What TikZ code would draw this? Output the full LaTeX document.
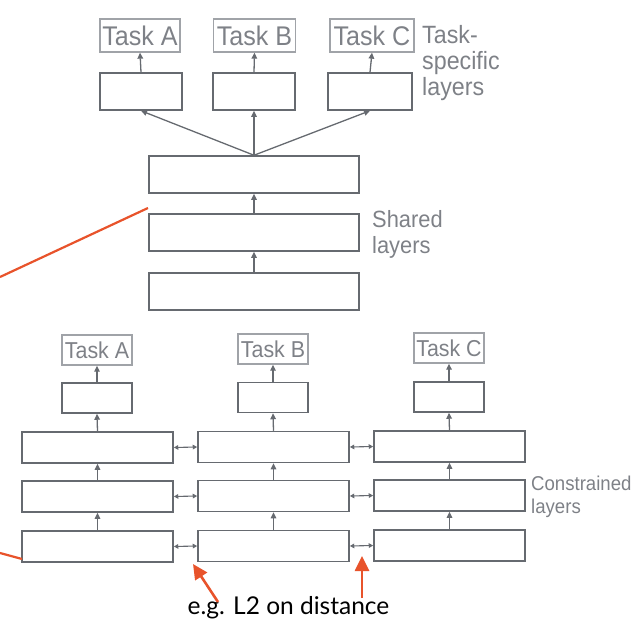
\documentclass[tikz,border=0pt]{standalone}
\usepackage{fontspec}
\setmainfont{Liberation Sans}
\newfontfamily\lightsans[FakeStretch=0.93]{Liberation Sans}
\newfontfamily\notefont{Lato}
\usetikzlibrary{arrows.meta}
\definecolor{boxgray}{HTML}{666A70}
\definecolor{taskgray}{HTML}{A0A3A8}
\definecolor{txtgray}{HTML}{7E8187}
\definecolor{redor}{HTML}{E8532B}
\begin{document}
\begin{tikzpicture}[x=1pt,y=-1pt,
  layer/.style={draw=boxgray, line width=1.5pt, rectangle, inner sep=0pt},
  taskbox/.style={draw=taskgray, line width=1.3pt, rectangle, inner sep=0pt, text=txtgray},
  conn/.style={draw=boxgray, line width=1.3pt, -{Triangle[length=6pt,width=5.5pt]}},
  dconn/.style={draw=boxgray, line width=1.1pt, {Triangle[length=4.5pt,width=4.5pt]}-{Triangle[length=4.5pt,width=4.5pt]}},
  label/.style={anchor=west, text=txtgray, align=left, inner sep=0pt},
  redarrow/.style={draw=redor, line width=2.6pt, -{Triangle[length=15pt,width=14pt]}},
  redline/.style={draw=redor, line width=2.2pt}
]
\useasboundingbox (0,0) rectangle (641,629);

% ---------- top: hard parameter sharing ----------
\begin{scope}[every node/.append style={font=\lightsans\fontsize{27}{27}\selectfont}]
\node[taskbox, minimum width=80pt, minimum height=33pt] (tA) at (140,35.5) {Task A};
\node[taskbox, minimum width=82pt, minimum height=33pt] (tB) at (254.5,35.5) {Task B};
\node[taskbox, minimum width=84pt, minimum height=33pt] (tC) at (372,35.5) {Task C};
\end{scope}
\node[layer, minimum width=82pt, minimum height=37pt] (lA) at (141,91.5) {};
\node[layer, minimum width=82pt, minimum height=37pt] (lB) at (254,91.5) {};
\node[layer, minimum width=84pt, minimum height=37pt] (lC) at (370,91.5) {};
\node[layer, minimum width=210pt, minimum height=37pt] (s1) at (254,174.5) {};
\node[layer, minimum width=210pt, minimum height=37pt] (s2) at (254,232.5) {};
\node[layer, minimum width=210pt, minimum height=37pt] (s3) at (254,291.5) {};

\draw[conn] (lA.north) -- (tA.south);
\draw[conn] (lB.north) -- (tB.south);
\draw[conn] (lC.north) -- (tC.south);
\draw[conn] (s1.north) -- (lA.south);
\draw[conn] (s1.north) -- (lB.south);
\draw[conn] (s1.north) -- (lC.south);
\draw[conn] (s2.north) -- (s1.south);
\draw[conn] (s3.north) -- (s2.south);

\node[label, font=\lightsans\fontsize{25}{26}\selectfont] (tsl) at (422,63) {Task-\\specific\\layers};
\node[label, font=\lightsans\fontsize{23.5}{26}\selectfont] (shl) at (372,234) {Shared\\layers};

% ---------- bottom: soft parameter sharing ----------
\begin{scope}[every node/.append style={font=\lightsans\fontsize{23}{23}\selectfont}]
\node[taskbox, minimum width=70pt, minimum height=30pt] (bA) at (97,350) {Task A};
\node[taskbox, minimum width=70pt, minimum height=30pt] (bB) at (273,349) {Task B};
\node[taskbox, minimum width=70pt, minimum height=30pt] (bC) at (449,348) {Task C};
\end{scope}
\node[layer, minimum width=70pt, minimum height=30pt] (kA) at (97,398) {};
\node[layer, minimum width=70pt, minimum height=30pt] (kB) at (273,397.5) {};
\node[layer, minimum width=70pt, minimum height=30pt] (kC) at (449,397) {};

\foreach \c/\x/\dy in {A/97.5/0,B/273.5/-0.5,C/449.5/-1}{
  \node[layer, minimum width=151pt, minimum height=31pt] (r\c1) at (\x,447.5+\dy) {};
  \node[layer, minimum width=151pt, minimum height=31pt] (r\c2) at (\x,496.5+\dy) {};
  \node[layer, minimum width=151pt, minimum height=31pt] (r\c3) at (\x,546.5+\dy) {};
}
\foreach \c in {A,B,C}{
  \draw[conn] (k\c.north) -- (b\c.south);
  \draw[conn] (r\c1.north) -- (k\c.south);
  \draw[conn] (r\c2.north) -- (r\c1.south);
  \draw[conn] (r\c3.north) -- (r\c2.south);
}
\foreach \r in {1,2,3}{
  \draw[dconn] (rA\r.east) -- (rB\r.west);
  \draw[dconn] (rB\r.east) -- (rC\r.west);
}

\node[label, font=\lightsans\fontsize{20}{23}\selectfont] (cl) at (531,497) {Constrained\\layers};

% ---------- annotation ----------
\node[font=\notefont\fontsize{24.5}{24.5}\selectfont, text=black, inner sep=0pt] (note) at (288.5,608) {e.g. L2 on distance};
\coordinate (t1) at (218,602);
\coordinate (h1) at (193,564);
\coordinate (t2) at (362,598);
\coordinate (h2) at (362,556);
\draw[redarrow] (t1) -- (h1);
\draw[redarrow] (t2) -- (h2);

\coordinate (o1) at (148,208);
\coordinate (o2) at (0,277);
\coordinate (o3) at (0,553);
\coordinate (o4) at (22,559);
\draw[redline] (o1) -- (o2);
\draw[redline] (o3) -- (o4);
\end{tikzpicture}
\end{document}
